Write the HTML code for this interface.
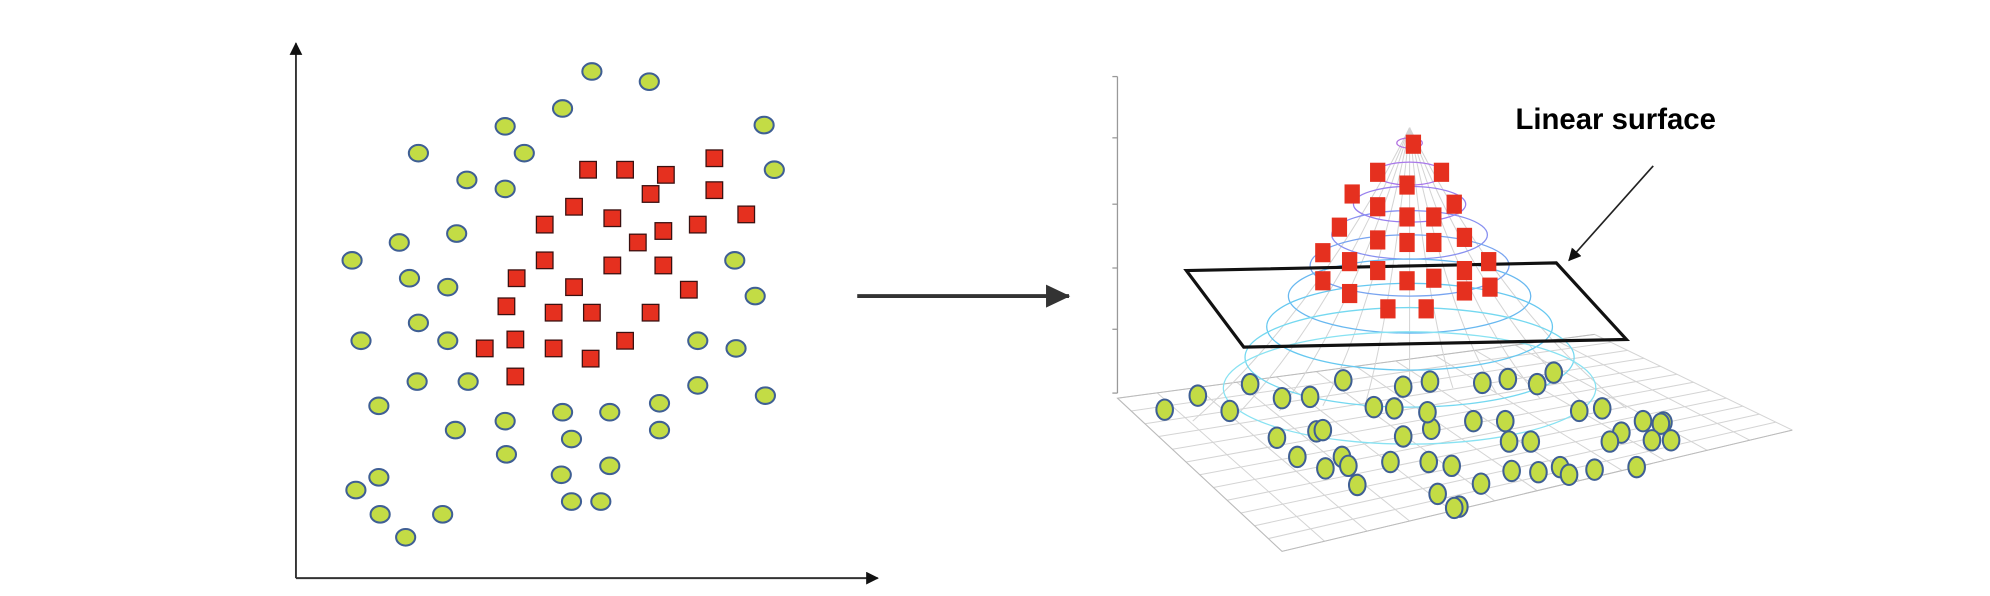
<!DOCTYPE html>
<html><head><meta charset="utf-8"><style>
html,body{margin:0;padding:0;background:#fff;}
svg{display:block;}
</style></head><body>
<svg id="fig" width="1990" height="596" viewBox="0 0 1560 467" preserveAspectRatio="none" xmlns="http://www.w3.org/2000/svg">
<defs>
<marker id="ah" markerWidth="10" markerHeight="10" refX="9" refY="5" orient="auto" markerUnits="userSpaceOnUse"><path d="M0,0 L10,5 L0,10 z" fill="#111"/></marker>
<marker id="ahBig" markerWidth="20" markerHeight="20" refX="18" refY="10" orient="auto" markerUnits="userSpaceOnUse"><path d="M0,1 L19,10 L0,19 z" fill="#333"/></marker>
</defs>
<g id="left">
<line x1="232" y1="453" x2="232" y2="34" stroke="#333" stroke-width="1.5" marker-end="url(#ah)"/>
<line x1="232" y1="453" x2="688" y2="453" stroke="#333" stroke-width="1.5" marker-end="url(#ah)"/>
</g>
<line x1="672" y1="232" x2="838" y2="232" stroke="#333" stroke-width="3" marker-end="url(#ahBig)"/>
<g id="right">
<g stroke="#999" stroke-width="1">
<line x1="876" y1="60" x2="876" y2="308"/>
<line x1="872" y1="60" x2="876" y2="60"/><line x1="872" y1="108" x2="876" y2="108"/><line x1="872" y1="160" x2="876" y2="160"/><line x1="872" y1="210" x2="876" y2="210"/><line x1="872" y1="258" x2="876" y2="258"/><line x1="872" y1="308" x2="876" y2="308"/>
</g>
<g id="mesh" fill="none" stroke="#d4d4d4" stroke-width="0.8"></g>
<g id="contours" fill="none" stroke-width="1"></g>
<g id="rpts"></g>
<polygon points="930,212 1220,206 1275,266 975,272" fill="none" stroke="#111" stroke-width="2.5"/>
<g id="rsq"></g>
<line x1="1296" y1="130" x2="1230" y2="204" stroke="#222" stroke-width="1.3" marker-end="url(#ah)"/>
<text x="1188" y="101" font-family="'Liberation Sans',sans-serif" font-weight="bold" font-size="23" fill="#000">Linear surface</text>
</g>
<g id="lpts"></g>
</svg>
<script>
// Left plot data (x,y in figure units)
const leftCircleX=[464,509,441,396,599,328,411,366,396,607,358,313,276,576,321,351,592,328,283,351,547,577,547,600,327,367,297,396,441,478,517,357,448,517,397,478,440,297,279,298,347,318,448,471];
const leftCircleY=[56,64,85,99,98,120,120,141,148,133,183,190,204,204,218,225,232,253,267,267,267,273,302,310,299,299,318,330,323,323,316,337,344,337,356,365,372,374,384,403,403,421,393,393];
const leftSquareX=[461,490,522,560,510,560,450,427,480,520,500,547,585,427,405,450,480,520,540,397,434,464,510,490,380,404,434,463,404];
const leftSquareY=[133,133,137,124,152,149,162,176,171,181,190,176,168,204,218,225,208,208,227,240,245,245,245,267,273,266,273,281,295];
// Right plot data
const rightSquareX=[1108,1080,1130,1103,1060,1080,1103,1124,1140,1050,1080,1103,1124,1148,1037,1058,1080,1103,1124,1148,1167,1037,1058,1088,1118,1148,1168];
const rightSquareY=[113,135,135,145,152,162,170,170,160,178,188,190,190,186,198,205,212,220,218,212,205,220,230,242,242,228,225];
const rightCircleX=[913,939,964,980,1005,1027,1053,1077,1100,1121,1162,1182,1205,1218,1093,1032,1122,1180,1238,1256,1271,1288,1304,1155,1183,1200,1262,1302,1310,1001,1017,1037,1052,1057,1039,1064,1090,1120,1138,1185,1206,1223,1230,1250,1283,1127,1144,1161,1140,1295,1119,1100];
const rightCircleY=[321,310,322,301,312,311,298,319,303,299,300,297,301,292,320,338,336,330,322,320,339,330,331,330,346,346,346,332,345,343,358,337,358,365,367,380,362,362,365,369,370,366,372,368,366,387,397,379,398,345,323,342];
function mk(tag,attrs,parent){const e=document.createElementNS('http://www.w3.org/2000/svg',tag);for(const k in attrs)e.setAttribute(k,attrs[k]);parent.appendChild(e);return e;}
const lp=document.getElementById('lpts');
leftCircleX.forEach((x,i)=>{const c=mk('ellipse',{cx:x,cy:leftCircleY[i],rx:7.5,ry:6.5,fill:'#c3dc45',stroke:'#3f5f94','stroke-width':1.6},lp);

});
leftSquareX.forEach((x,i)=>{const r=mk('rect',{x:x-6.5,y:leftSquareY[i]-6.5,width:13,height:13,fill:'#e5301f',stroke:'#3a1010','stroke-width':1},lp);

});
// floor grid
const mesh=document.getElementById('mesh');
const L=[876,312],B=[1005,432],R=[1405,337],T=[1250,262];
function lerp(a,b,t){return [a[0]+(b[0]-a[0])*t,a[1]+(b[1]-a[1])*t];}
for(let i=0;i<=12;i++){const t=i/12;
const p=lerp(L,B,t),q=lerp(T,R,t);
const ln=mk('line',{x1:p[0],y1:p[1],x2:q[0],y2:q[1]},mesh);


const p2=lerp(L,T,t),q2=lerp(B,R,t);
const ln2=mk('line',{x1:p2[0],y1:p2[1],x2:q2[0],y2:q2[1]},mesh);

}
const bound=mk('polyline',{points:`${T[0]},${T[1]} ${L[0]},${L[1]} ${B[0]},${B[1]} ${R[0]},${R[1]}`,stroke:'#bbb'},mesh);


// bell meridians
for(let i=0;i<11;i++){const a=-1+i*0.2;const ln=mk('path',{d:`M1105,100 C${1105+a*25},150 ${1105+a*80},250 ${1105+a*170},${300+Math.abs(a)*20+ (a>0?0:10)}`},mesh);

}
const ct=document.getElementById('contours');
const cols=['#b070e0','#a878ea','#9880ee','#8890f0','#78a4f0','#68b8f0','#66c8f0','#74d8f0','#88e2f2'];
for(let i=0;i<9;i++){const e=mk('ellipse',{cx:1105,cy:112+i*24,rx:10+i*17,ry:4+i*5,stroke:cols[i]},ct);

}
const rp=document.getElementById('rpts');
rightCircleX.forEach((x,i)=>{const c=mk('ellipse',{cx:x,cy:rightCircleY[i],rx:6.5,ry:8,fill:'#c3dc45',stroke:'#3f5f94','stroke-width':1.6},rp);

});
const rs=document.getElementById('rsq');
rightSquareX.forEach((x,i)=>{const r=mk('rect',{x:x-6,y:rightSquareY[i]-7.5,width:12,height:15,fill:'#e5301f'},rs);

});
</script>
</body></html>
